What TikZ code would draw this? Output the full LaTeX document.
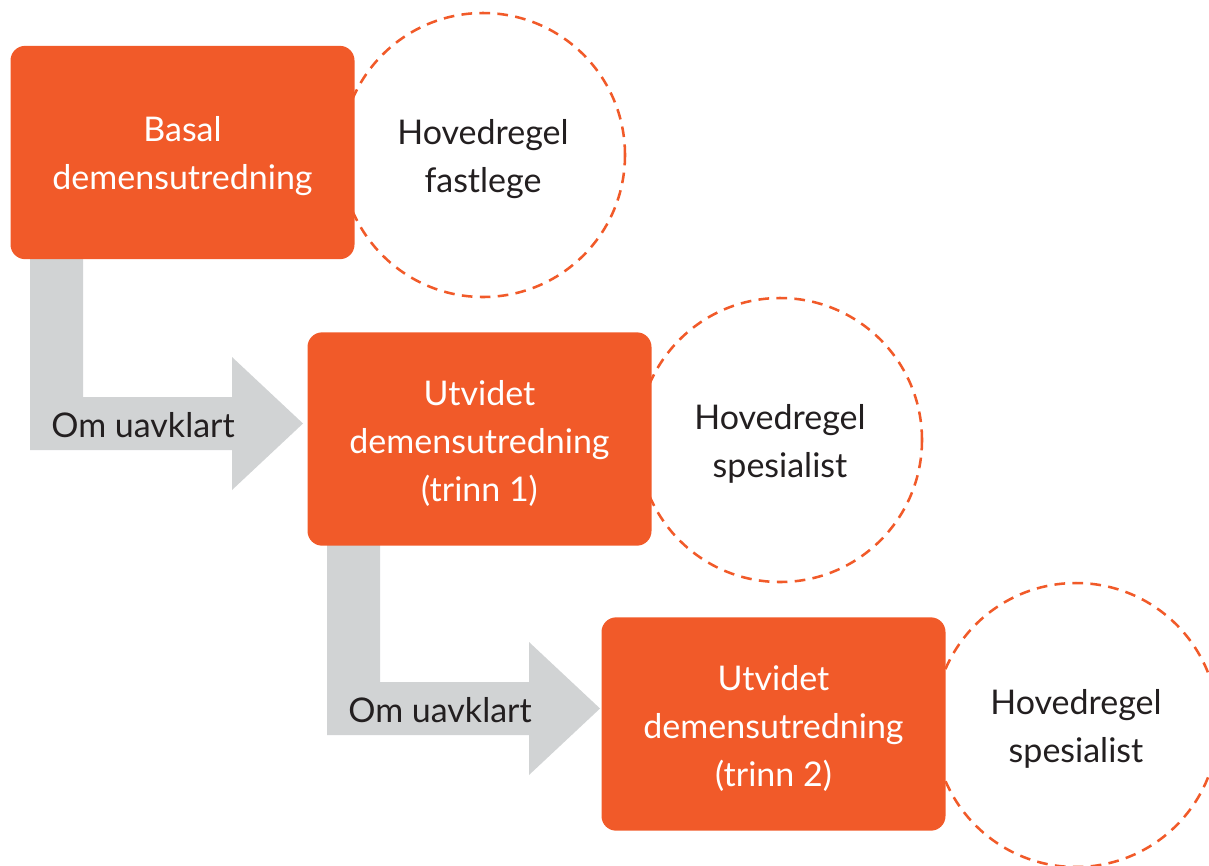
\documentclass[tikz,border=0pt]{standalone}
\usepackage{fontspec}
\setmainfont{Lato}
\definecolor{utredorange}{RGB}{241,90,41}
\definecolor{pilgraa}{RGB}{209,211,212}
\definecolor{tekstsort}{RGB}{35,31,32}

\tikzset{every picture/.style={line width=0.75pt}}
\tikzset{
  trinnboks/.style={draw=none, fill=utredorange, rounded corners=11pt, minimum width=258pt, minimum height=160pt},
  trinntekst/.style={text=white, align=center, font=\fontsize{25.5}{36}\selectfont, yshift=-3pt},
  regelsirkel/.style={circle, draw=utredorange, line width=1.9pt, dash pattern={on 8pt off 5.5pt}, fill=white, minimum size=213pt},
  regeltekst/.style={text=tekstsort, align=center, font=\fontsize{25.5}{36}\selectfont, yshift=-3pt},
  pil/.style={fill=pilgraa, draw=none},
  piltekst/.style={text=tekstsort, font=\fontsize{25.5}{36}\selectfont, inner sep=0.75pt}
}

\begin{document}
\begin{tikzpicture}[x=0.75pt,y=0.75pt,yscale=-1,xscale=1]
\useasboundingbox (0,0) rectangle (1209,865);

%Shape: Circle [fastlege]
\node [regelsirkel] (fastlege) at (483,155) {};
\node [regeltekst] (fastlegetekst) at (fastlege) {Hovedregel\\fastlege};
%Shape: Circle [spesialist 1]
\node [regelsirkel] (spes1) at (780,440) {};
\node [regeltekst] (spes1tekst) at (spes1) {Hovedregel\\spesialist};
%Shape: Circle [spesialist 2]
\node [regelsirkel] (spes2) at (1076,725) {};
\node [regeltekst] (spes2tekst) at (spes2) {Hovedregel\\spesialist};

%Shape: Arrow [til trinn 1]
\draw [pil] (30,250) -- (83,250) -- (83,397) -- (232,397) -- (232,357) -- (303,423.5) -- (232,490) -- (232,450) -- (30,450) -- cycle ;
%Shape: Arrow [til trinn 2]
\draw [pil] (327,535) -- (380,535) -- (380,682) -- (529,682) -- (529,642) -- (600,708.5) -- (529,775) -- (529,735) -- (327,735) -- cycle ;

%Shape: Rectangle [basal]
\node [trinnboks] (basal) at (182.5,152.5) {};
\node [trinntekst] (basaltekst) at (basal) {Basal\\demensutredning};
%Shape: Rectangle [trinn 1]
\node [trinnboks] (trinn1) at (479.5,439) {};
\node [trinntekst] (trinn1tekst) at (trinn1) {Utvidet\\demensutredning\\(trinn 1)};
%Shape: Rectangle [trinn 2]
\node [trinnboks] (trinn2) at (773.5,724) {};
\node [trinntekst] (trinn2tekst) at (trinn2) {Utvidet\\demensutredning\\(trinn 2)};

% Text Node
\node [piltekst] (uavklart1) at (143,425) {Om uavklart};
% Text Node
\node [piltekst] (uavklart2) at (440,710) {Om uavklart};

\end{tikzpicture}
\end{document}
